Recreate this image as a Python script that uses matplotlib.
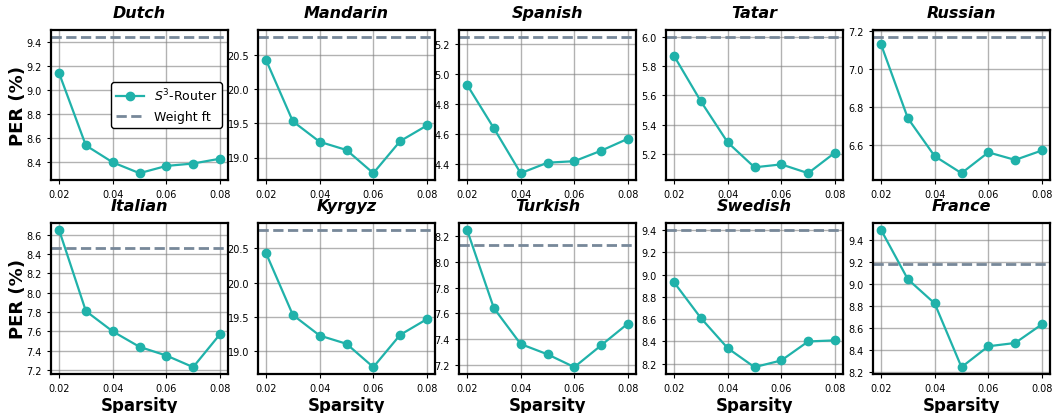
import matplotlib
matplotlib.use("Agg")
import matplotlib.pyplot as plt
from matplotlib.ticker import MultipleLocator

sparsity = [0.02, 0.03, 0.04, 0.05, 0.06, 0.07, 0.08]
xticks = [0.02, 0.04, 0.06, 0.08]

languages = ["Dutch", "Mandarin", "Spanish", "Tatar", "Russian",
             "Italian", "Kyrgyz", "Turkish", "Swedish", "France"]

# S^3-Router PER per language
dutch = [9.14, 8.54, 8.40, 8.31, 8.37, 8.39, 8.43]
mandarin = [20.43, 19.53, 19.23, 19.11, 18.77, 19.24, 19.47]
spanish = [4.93, 4.64, 4.34, 4.41, 4.42, 4.49, 4.57]
tatar = [5.87, 5.56, 5.28, 5.11, 5.13, 5.07, 5.21]
russian = [7.13, 6.74, 6.54, 6.45, 6.56, 6.52, 6.57]
italian = [8.65, 7.81, 7.60, 7.44, 7.35, 7.23, 7.57]
kyrgyz = [20.43, 19.53, 19.23, 19.11, 18.77, 19.24, 19.47]
turkish = [8.25, 7.64, 7.36, 7.28, 7.18, 7.35, 7.52]
swedish = [8.93, 8.61, 8.34, 8.17, 8.23, 8.40, 8.41]
france = [9.49, 9.04, 8.82, 8.24, 8.43, 8.46, 8.63]

router = [dutch, mandarin, spanish, tatar, russian,
          italian, kyrgyz, turkish, swedish, france]

# Weight finetuning baseline
weight_ft = [9.44, 20.77, 5.25, 6.00, 7.17, 8.46, 20.77, 8.13, 9.40, 9.18]

# y tick spacing per panel
ystep = [0.2, 0.5, 0.2, 0.2, 0.2, 0.2, 0.5, 0.2, 0.2, 0.2]

fig = plt.figure(figsize=(10.52, 4.14), dpi=100)

lefts = [51, 258, 459, 666, 873]
W, H = 1052.0, 414.0
rows = [(31, 181), (224, 375)]

for k, lang in enumerate(languages):
    r, c = divmod(k, 5)
    top, bot = rows[r]
    ax = fig.add_axes([lefts[c] / W, 1 - bot / H, 177 / W, (bot - top) / H])
    ax.plot(sparsity, router[k], color="#20b2aa", lw=1.6, marker="o",
            markersize=6, label="$S^3$-Router", zorder=3)
    ax.axhline(weight_ft[k], color="#778899", lw=2, ls="--", label="Weight ft", zorder=2)
    ax.set_xticks(xticks)
    ax.set_xticklabels(["%.2f" % t for t in xticks])
    ax.yaxis.set_major_locator(MultipleLocator(ystep[k]))
    ax.tick_params(labelsize=7, length=3)
    ax.grid(True, color="gray", alpha=0.6, lw=1)
    ax.set_axisbelow(True)
    for s in ax.spines.values():
        s.set_linewidth(1.6)
        s.set_color("black")
    ax.set_title(lang, fontsize=11.5, fontweight="bold", style="italic", pad=9)
    if c == 0:
        ax.set_ylabel("PER (%)", fontsize=13, fontweight="bold")
        ax.yaxis.set_label_coords(-0.135, 0.5)
    if r == 1:
        ax.set_xlabel("Sparsity", fontsize=12, fontweight="bold", labelpad=2)
    if k == 0:
        leg = ax.legend(loc="center right", fontsize=9, framealpha=1,
                        handlelength=2.2, borderpad=0.4)
        leg.get_frame().set_edgecolor("black")

fig.savefig("out.png", dpi=100)
